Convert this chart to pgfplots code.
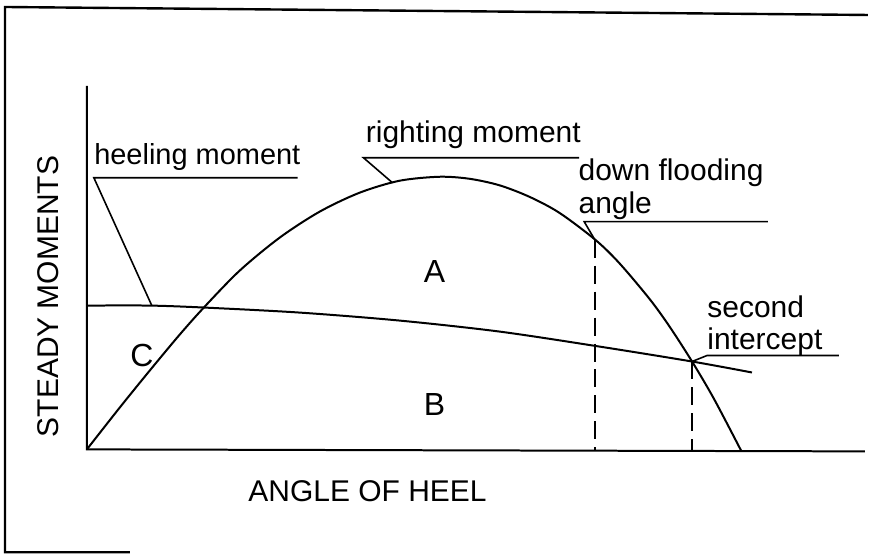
\documentclass[border=0pt]{standalone}
\usepackage{pgfplots}
\pgfplotsset{compat=1.18}
\usepackage{fontspec}
\setmainfont{Liberation Sans}
\begin{document}
\begin{tikzpicture}
\begin{axis}[
  scale only axis, width=434.5pt, height=278pt,
  xmin=0, xmax=869, ymin=0, ymax=556, y dir=reverse,
  hide axis, clip=false,
]
% invisible corners to fix bounding box
\addplot[draw=none, forget plot] coordinates {(0,0) (869,556)};
% frame
\addplot[black, line width=1.2pt] coordinates {(130,553) (5,553) (5,7) (869,15)};
% axes
\addplot[black, line width=1pt] coordinates {(87,86) (87,450) (866,452)};
% righting moment
\addplot[black, line width=1pt, smooth] coordinates {
(87,450) (120,408) (150,371) (180,335) (205,307) (240,271) (280,238) (320,212)
(360,193) (400,181) (440,177) (470,179) (500,185.5) (530,197) (560,213)
(596,240) (620,263.3) (650,298.8) (670,326.3) (693,362) (715,399.5) (742,451)};
% heeling moment
\addplot[black, line width=1pt, smooth] coordinates {
(87,306) (150,306) (205,308) (300,313) (400,321) (500,332) (600,347) (693,362) (753,373)};
% dashed verticals
\addplot[black, line width=1pt, dash pattern=on 9pt off 4pt] coordinates {(596,240) (596,451)};
\addplot[black, line width=1pt, dash pattern=on 9pt off 4pt] coordinates {(693,362) (693,451)};
% leaders
\addplot[black, line width=0.8pt] coordinates {(152,306) (94,178) (298,178)};
\addplot[black, line width=0.8pt] coordinates {(393,183) (364,158) (580,158)};
\addplot[black, line width=0.8pt] coordinates {(595,239) (585,222) (769,222)};
\addplot[black, line width=0.8pt] coordinates {(693,362) (708,356) (840,356)};
% texts
\node[anchor=base west, font=\fontsize{14.5}{18}\selectfont, inner sep=0pt] at (axis cs:94,165) {heeling moment};
\node[anchor=base west, font=\fontsize{15}{18}\selectfont, inner sep=0pt] at (axis cs:366,143) {righting moment};
\node[anchor=base west, font=\fontsize{15}{18}\selectfont, inner sep=0pt] at (axis cs:579,181) {down flooding};
\node[anchor=base west, font=\fontsize{15}{18}\selectfont, inner sep=0pt] at (axis cs:579,214) {angle};
\node[anchor=base west, font=\fontsize{15}{18}\selectfont, inner sep=0pt] at (axis cs:708,318) {second};
\node[anchor=base west, font=\fontsize{15}{18}\selectfont, inner sep=0pt] at (axis cs:708,350) {intercept};
\node[font=\fontsize{16}{18}\selectfont] at (axis cs:435,272) {A};
\node[font=\fontsize{16}{18}\selectfont] at (axis cs:435,405) {B};
\node[font=\fontsize{16}{18}\selectfont] at (axis cs:142,356) {C};
\node[font=\fontsize{15}{18}\selectfont] at (axis cs:368,492) {ANGLE OF HEEL};
\node[font=\fontsize{15}{18}\selectfont, rotate=90] at (axis cs:48,297) {STEADY MOMENTS};
\end{axis}
\end{tikzpicture}
\end{document}
